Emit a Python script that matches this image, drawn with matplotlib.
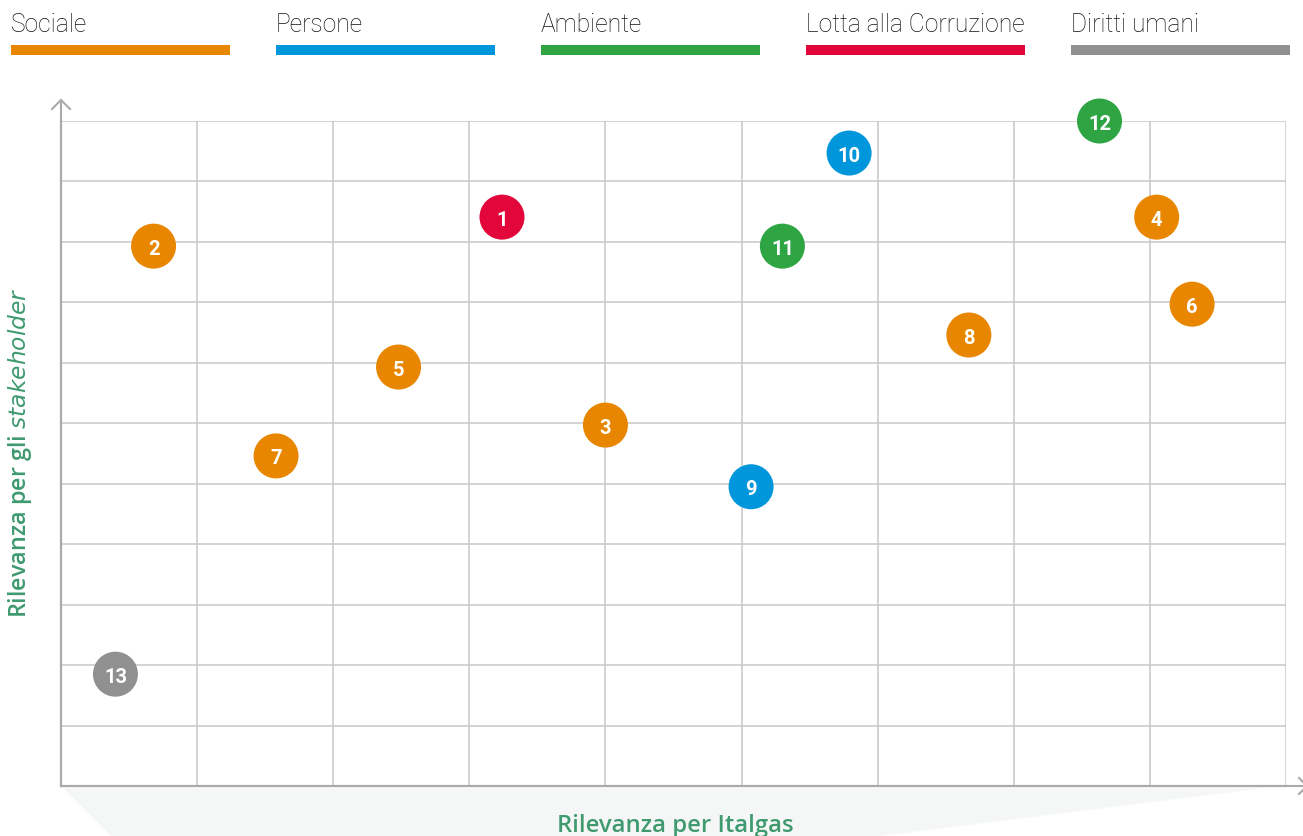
import matplotlib
matplotlib.use("Agg")
import matplotlib.pyplot as plt
from matplotlib.patches import Polygon, Rectangle
from matplotlib.lines import Line2D

# ---------------- data ----------------
categories = ["Sociale", "Persone", "Ambiente", "Lotta alla Corruzione", "Diritti umani"]
cat_colors = ["#E88600", "#0096DB", "#2EA443", "#E2063A", "#909090"]

labels = [1, 2, 3, 4, 5, 6, 7, 8, 9, 10, 11, 12, 13]
x_italgas = [3.24, 0.68, 4.00, 8.05, 2.48, 8.31, 1.58, 6.67, 5.07, 5.79, 5.30, 7.63, 0.40]
y_stakeholder = [9.41, 8.93, 5.97, 9.41, 6.93, 7.97, 5.46, 7.46, 4.95, 10.47, 8.93, 11.0, 1.85]
point_cat = [3, 0, 0, 0, 0, 0, 0, 0, 1, 1, 2, 2, 4]

x_label = "Rilevanza per Italgas"
y_label = r"Rilevanza per gli $\it{stakeholder}$"

# ---------------- figure ----------------
W, H = 1303, 837
fig = plt.figure(figsize=(W / 100, H / 100), dpi=100)

def fx(px):
    return px / W

def fy(py):
    return 1 - py / H

left, right, top, bottom = 61, 1286, 122, 787
ax = fig.add_axes([fx(left), fy(bottom), fx(right) - fx(left), fy(top) - fy(bottom)])
ax.set_xlim(0, 9)
ax.set_ylim(0, 11)
ax.set_xticks(range(0, 10))
ax.set_yticks(range(0, 12))
ax.tick_params(length=0, labelbottom=False, labelleft=False)
ax.grid(True, color="#c8c8c8", linewidth=1.1)
ax.set_axisbelow(True)
for s in ["top", "right"]:
    ax.spines[s].set_visible(False)
for s in ["left", "bottom"]:
    ax.spines[s].set_color("#aaaaaa")
    ax.spines[s].set_linewidth(1.5)
ax.patch.set_alpha(0)

# shaded floor under the x axis
poly = Polygon([(fx(61), fy(787)), (fx(1280), fy(787)), (fx(880), fy(837)), (fx(111), fy(837))],
               closed=True, transform=fig.transFigure, facecolor="#f5f7f6", edgecolor="none", zorder=0)
fig.patches.append(poly)

# axis arrows
arrow_col = "#aaaaaa"
fig.add_artist(Line2D([fx(61), fx(61)], [fy(787), fy(101)], color=arrow_col, lw=1.5))
fig.add_artist(Line2D([fx(52), fx(61), fx(70)], [fy(110), fy(101), fy(110)], color=arrow_col, lw=1.5))
fig.add_artist(Line2D([fx(61), fx(1302)], [fy(787), fy(787)], color=arrow_col, lw=1.5))
fig.add_artist(Line2D([fx(1299), fx(1307), fx(1299)], [fy(779), fy(787), fy(795)], color=arrow_col, lw=1.5))

# points
cols = [cat_colors[c] for c in point_cat]
ax.scatter(x_italgas, y_stakeholder, s=1050, c=cols, edgecolors="none", zorder=3, clip_on=False)
for lab, xv, yv in zip(labels, x_italgas, y_stakeholder):
    ax.text(xv, yv, str(lab), ha="center", va="center_baseline", color="white",
            fontsize=14.5, fontweight="bold", family="Roboto", zorder=4)

# axis labels
label_col = "#3f9a70"
fig.text(fx(675), fy(826), x_label, ha="center", va="center", color=label_col,
         fontsize=17.2, fontweight="semibold", family="Open Sans")
fig.text(fx(20), fy(453), y_label, ha="center", va="center", rotation=90, color=label_col,
         fontsize=16.8, fontweight="semibold", family="Open Sans")

# legend
leg_x = [11, 276, 541, 806, 1071]
bar_w = 219
for name, col, lx in zip(categories, cat_colors, leg_x):
    fig.text(fx(lx), fy(32.5), name, ha="left", va="baseline", color="#111111",
             fontsize=17.7, fontweight="light", family="Roboto")
    fig.patches.append(Rectangle((fx(lx), fy(56)), bar_w / W, 10 / H, transform=fig.transFigure,
                                 facecolor=col, edgecolor="none"))

fig.savefig("out.png", dpi=100)
